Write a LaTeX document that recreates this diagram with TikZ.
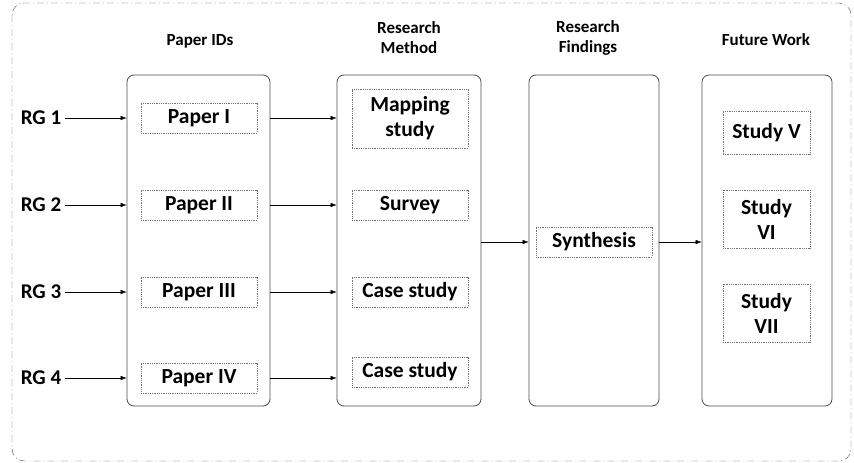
\documentclass[tikz,border=0pt]{standalone}
\usepackage{fontspec}
\setmainfont{Carlito}
\usetikzlibrary{arrows.meta, positioning}

\begin{document}
\begin{tikzpicture}[x=1pt, y=-1pt,
  column/.style={draw=black!70, thick, rounded corners=7pt, minimum height=331pt},
  item/.style={draw=black!55, densely dotted, thick, minimum width=116pt, minimum height=30pt,
    align=center, inner sep=2pt, font=\bfseries\fontsize{21.5}{25}\selectfont},
  heading/.style={align=center, font=\bfseries\fontsize{17}{20}\selectfont},
  rg/.style={font=\bfseries\fontsize{21}{25}\selectfont},
  link/.style={-{Latex[length=6pt,width=4.5pt]}, black}]
\useasboundingbox (0,0) rectangle (854,463);

% outer frame
\draw[black!70, dash pattern=on 7pt off 3pt on 1pt off 3pt, rounded corners=12pt] (12,3) rectangle (851,461);

% columns
\node[column, minimum width=143pt] (ids) at (198.5,240.5) {};
\node[column, minimum width=144pt] (method) at (409,240.5) {};
\node[column, minimum width=130pt] (findings) at (594,240.5) {};
\node[column, minimum width=130pt] (future) at (767,240.5) {};

% headings
\node[heading] (hids) at (200,41) {Paper IDs};
\node[heading] (hmethod) at (409,38) {Research\\Method};
\node[heading] (hfindings) at (588,38) {Research\\Findings};
\node[heading] (hfuture) at (766,40) {Future Work};

% paper IDs
\node[item] (p1) at (199,118) {Paper I};
\node[item] (p2) at (199,205) {Paper II};
\node[item] (p3) at (199,292) {Paper III};
\node[item] (p4) at (199,378) {Paper IV};

% research method
\node[item, minimum height=59pt] (m1) at (410,118.5) {Mapping\\study};
\node[item] (m2) at (410,205) {Survey};
\node[item] (m3) at (410,292) {Case study};
\node[item] (m4) at (410,372) {Case study};

% findings and future work
\node[item] (syn) at (594,242) {Synthesis};
\node[item, minimum width=87pt, minimum height=43pt] (s5) at (766.5,132.5) {Study V};
\node[item, minimum width=87pt, minimum height=58pt] (s6) at (766.5,219) {Study\\VI};
\node[item, minimum width=87pt, minimum height=58pt] (s7) at (766.5,313) {Study\\VII};

% research goals
\foreach \i/\y in {1/118, 2/205, 3/292, 4/378} {
  \node[rg] (rg\i) at (41,\y) {RG \i};
  \draw[link] (rg\i.east) -- (rg\i -| ids.west);
  \draw[link] (p\i -| ids.east) -- (p\i -| method.west);
}

\draw[link] (method.east |- syn) -- (findings.west |- syn);
\draw[link] (findings.east |- syn) -- (future.west |- syn);
\end{tikzpicture}
\end{document}
